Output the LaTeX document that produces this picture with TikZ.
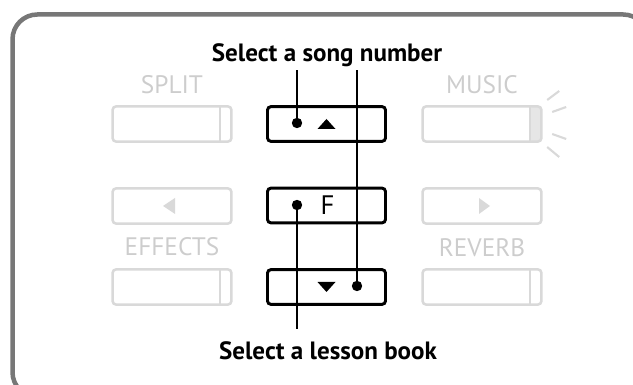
\documentclass[tikz,border=0pt]{standalone}
\usepackage{fontspec}
\setmainfont{PT Sans}
\usepackage{tikz}
\usetikzlibrary{positioning, calc}

\definecolor{framegray}{HTML}{777777}
\definecolor{dimgray}{HTML}{D9D9D9}
\definecolor{dimtext}{HTML}{CDCDCD}
\definecolor{ledlit}{HTML}{E6E6E6}

\tikzset{
  keybtn/.style={draw=black, line width=2.1pt, rounded corners=2.5pt, minimum width=2.95cm, minimum height=0.87cm, inner sep=0pt},
  dimbtn/.style={draw=dimgray, line width=1.8pt, rounded corners=2.5pt, minimum width=2.97cm, minimum height=0.88cm, inner sep=0pt},
  ledbtn/.style={dimbtn, path picture={
      \draw[dimgray, line width=1.8pt] ([xshift=-0.28cm]path picture bounding box.north east) -- ([xshift=-0.28cm]path picture bounding box.south east);}},
  litbtn/.style={dimbtn, path picture={
      \fill[ledlit] ([xshift=-0.28cm]path picture bounding box.north east) rectangle (path picture bounding box.south east);
      \draw[dimgray, line width=1.8pt] ([xshift=-0.28cm]path picture bounding box.north east) -- ([xshift=-0.28cm]path picture bounding box.south east);}},
  dimlbl/.style={text=dimtext, font=\fontsize{18}{20}\selectfont},
  calllbl/.style={font=\fontsize{17.8}{20}\selectfont\bfseries, inner sep=2pt},
  pindot/.style={circle, fill=black, inner sep=0pt, minimum size=0.26cm},
  leader/.style={line width=1.1pt}
}

\begin{document}
\begin{tikzpicture}[x=0.025cm, y=-0.025cm]
    \useasboundingbox (0,0) rectangle (633,385);
    \clip (0,0) rectangle (633,385);

    % Panel frame
    \draw[framegray, line width=3.2pt, rounded corners=0.62cm] (12.5,14.5) rectangle (648,397);

    % Left column (dimmed)
    \node[ledbtn] (split) at (172,124) {};
    \node[dimbtn] (prev) at (172,206) {};
    \node[ledbtn] (effects) at (172,287) {};
    \node[dimlbl] (splitlbl) at (172,85) {SPLIT};
    \node[dimlbl] (effectslbl) at (172,247) {EFFECTS};
    \fill[dimgray] ($(prev)+(-9,0)$) -- ($(prev)+(3,-8)$) -- ($(prev)+(3,8)$) -- cycle;

    % Right column (dimmed)
    \node[litbtn] (music) at (482,124) {};
    \node[dimbtn] (next) at (482,206) {};
    \node[ledbtn] (reverb) at (482,287) {};
    \node[dimlbl] (musiclbl) at (482,85) {MUSIC};
    \node[dimlbl] (reverblbl) at (482,248) {REVERB};
    \fill[dimgray] ($(next)+(8,0)$) -- ($(next)+(-3,-8)$) -- ($(next)+(-3,8)$) -- cycle;
    % LED glow
    \foreach \ax/\ay/\bx/\by in {4.5/-24/16.5/-33, 9.5/-12/23.5/-17, 9.5/10/23.5/15, 4.5/23/16.5/33}
        \draw[dimgray, line width=1.5pt] ($(music.east)+(\ax,\ay)$) -- ($(music.east)+(\bx,\by)$);

    % Centre column
    \node[keybtn] (up) at (326.5,124) {};
    \node[keybtn] (fkey) at (326.5,205.5) {};
    \node[keybtn] (down) at (326.5,287) {};
    \fill ($(up)+(0,-5)$) -- ($(up)+(9,5)$) -- ($(up)+(-9,5)$) -- cycle;
    \fill ($(down)+(0,5)$) -- ($(down)+(9,-5)$) -- ($(down)+(-9,-5)$) -- cycle;
    \node[font=\fontsize{19}{20}\selectfont] (flbl) at ($(fkey)+(1,0)$) {F};

    \node[pindot] (updot) at ($(up)+(-29.5,-1)$) {};
    \node[pindot] (fdot) at ($(fkey)+(-29.5,-0.5)$) {};
    \node[pindot] (downdot) at ($(down)+(30.5,-1)$) {};

    % Callouts
    \node[calllbl] (songlbl) at (327,55) {Select a song number};
    \node[calllbl] (lessonlbl) at (328,351) {Select a lesson book};

    \draw[leader] (updot) -- (updot |- songlbl.south);
    \draw[leader] (downdot) -- (downdot |- songlbl.south);
    \draw[leader] (fdot) -- ($(fdot |- lessonlbl.north)+(0,-10)$);
\end{tikzpicture}
\end{document}
